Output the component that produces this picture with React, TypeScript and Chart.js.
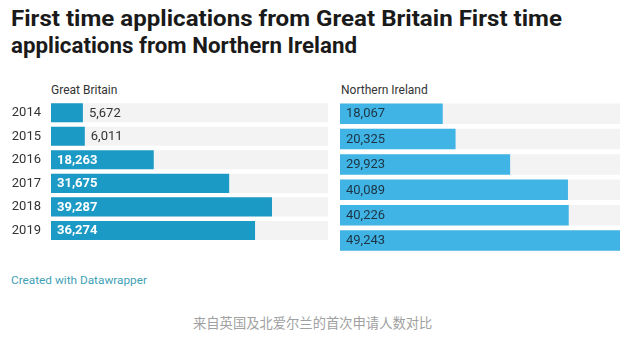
import React, { useEffect, useRef } from "react";
import { Chart, registerables } from "chart.js";
Chart.register(...registerables);

const years = ["2014", "2015", "2016", "2017", "2018", "2019"];
const greatBritain = [5672, 6011, 18263, 31675, 39287, 36274];
const northernIreland = [18067, 20325, 29923, 40089, 40226, 49243];
const axisMax = 49243;

const titleLine1 = "First time applications from Great Britain First time";
const titleLine2 = "applications from Northern Ireland";
const gbLabel = "Great Britain";
const niLabel = "Northern Ireland";
const creditText = "Created with Datawrapper";
const captionText = "来自英国及北爱尔兰的首次申请人数对比";

const fmt = (v: number) => v.toLocaleString("en-US");

const valueLabelPlugin = {
  id: "valueLabels",
  afterDatasetsDraw(chart: any, _args: any, opts: any) {
    const ctx = chart.ctx;
    const meta = chart.getDatasetMeta(1);
    const data = chart.data.datasets[1].data as number[];
    ctx.save();
    ctx.textBaseline = "middle";
    ctx.textAlign = "left";
    meta.data.forEach((bar: any, i: number) => {
      const txt = fmt(data[i]);
      ctx.font = opts.insideFont;
      const w = ctx.measureText(txt).width;
      const barW = bar.x - bar.base;
      if (w + 10 <= barW) {
        ctx.fillStyle = opts.insideColor;
        ctx.fillText(txt, bar.base + 6, bar.y + 0.5);
      } else {
        ctx.font = opts.outsideFont;
        ctx.fillStyle = opts.outsideColor;
        ctx.fillText(txt, bar.x + 6, bar.y + 0.5);
      }
    });
    ctx.restore();
  },
};

function Panel(props: {
  values: number[];
  color: string;
  showYears: boolean;
  left: number;
  width: number;
  insideColor: string;
  insideFont: string;
}) {
  const ref = useRef<HTMLCanvasElement>(null);
  useEffect(() => {
    const yAxisWidth = props.showYears ? 51 : 0;
    const chart = new Chart(ref.current!, {
      type: "bar",
      data: {
        labels: years,
        datasets: [
          {
            data: years.map(() => axisMax),
            backgroundColor: "#f3f3f3",
            order: 2,
            grouped: false,
            categoryPercentage: 1,
            barPercentage: 0.81,
          } as any,
          {
            data: props.values,
            backgroundColor: props.color,
            order: 1,
            grouped: false,
            categoryPercentage: 1,
            barPercentage: 0.81,
          } as any,
        ],
      },
      options: {
        indexAxis: "y",
        animation: false,
        responsive: false,
        maintainAspectRatio: false,
        layout: { padding: { top: 21, bottom: 6.8, left: 0, right: props.showYears ? 2 : 0 } },
        plugins: {
          legend: { display: false },
          tooltip: { enabled: false },
          valueLabels: {
            insideColor: props.insideColor,
            outsideColor: "#333333",
            insideFont: props.insideFont,
            outsideFont: "13px Roboto",
          },
        } as any,
        scales: {
          x: { display: false, min: 0, max: axisMax },
          y: {
            display: props.showYears,
            grid: { display: false, drawTicks: false },
            border: { display: false },
            ticks: { color: "#333333", font: { family: "Roboto", size: 13 }, padding: 10 },
            afterFit: (s: any) => {
              s.width = yAxisWidth;
            },
          },
        },
      },
      plugins: [valueLabelPlugin],
    });
    return () => chart.destroy();
  }, []);
  return (
    <canvas
      ref={ref}
      width={props.width}
      height={180}
      style={{ position: "absolute", left: props.left, top: 80, width: props.width, height: 180 }}
    />
  );
}

function FitLine(props: { text: string; top: number; target: number }) {
  const ref = useRef<HTMLDivElement>(null);
  useEffect(() => {
    const el = ref.current!;
    const w = el.getBoundingClientRect().width;
    if (w > 0) el.style.transform = `scaleX(${props.target / w})`;
  }, []);
  return (
    <div
      ref={ref}
      style={{
        position: "absolute",
        left: 11,
        top: props.top,
        fontSize: 22,
        lineHeight: "26px",
        fontWeight: 700,
        color: "#1a1a1a",
        whiteSpace: "nowrap",
        transformOrigin: "left top",
      }}
    >
      {props.text}
    </div>
  );
}

export default function App() {
  return (
    <div
      style={{
        position: "fixed",
        left: 0,
        top: 0,
        width: 620,
        height: 341,
        overflow: "hidden",
        background: "#ffffff",
        fontFamily: "Roboto, sans-serif",
      }}
    >
      <FitLine text={titleLine1} top={6} target={551} />
      <FitLine text={titleLine2} top={33} target={346} />
      <div style={{ position: "absolute", left: 51, top: 83, fontSize: 12, lineHeight: "14px", color: "#333" }}>
        {gbLabel}
      </div>
      <div style={{ position: "absolute", left: 341, top: 83, fontSize: 12, lineHeight: "14px", color: "#333" }}>
        {niLabel}
      </div>
      <Panel
        values={greatBritain}
        color="#1c9ac6"
        showYears={true}
        left={0}
        width={330}
        insideColor="#ffffff"
        insideFont="bold 13px Roboto"
      />
      <Panel
        values={northernIreland}
        color="#40b4e5"
        showYears={false}
        left={340}
        width={280}
        insideColor="#1d3444"
        insideFont="13px Roboto"
      />
      <div
        style={{ position: "absolute", left: 11, top: 272, fontSize: 11.8, lineHeight: "16px", color: "#3f9fb6" }}
      >
        {creditText}
      </div>
      <div
        style={{
          position: "absolute",
          left: 193,
          top: 314,
          fontSize: 13.3,
          lineHeight: "18px",
          color: "#a0a0a0",
          fontFamily: "'Noto Sans CJK SC', sans-serif",
        }}
      >
        {captionText}
      </div>
    </div>
  );
}
